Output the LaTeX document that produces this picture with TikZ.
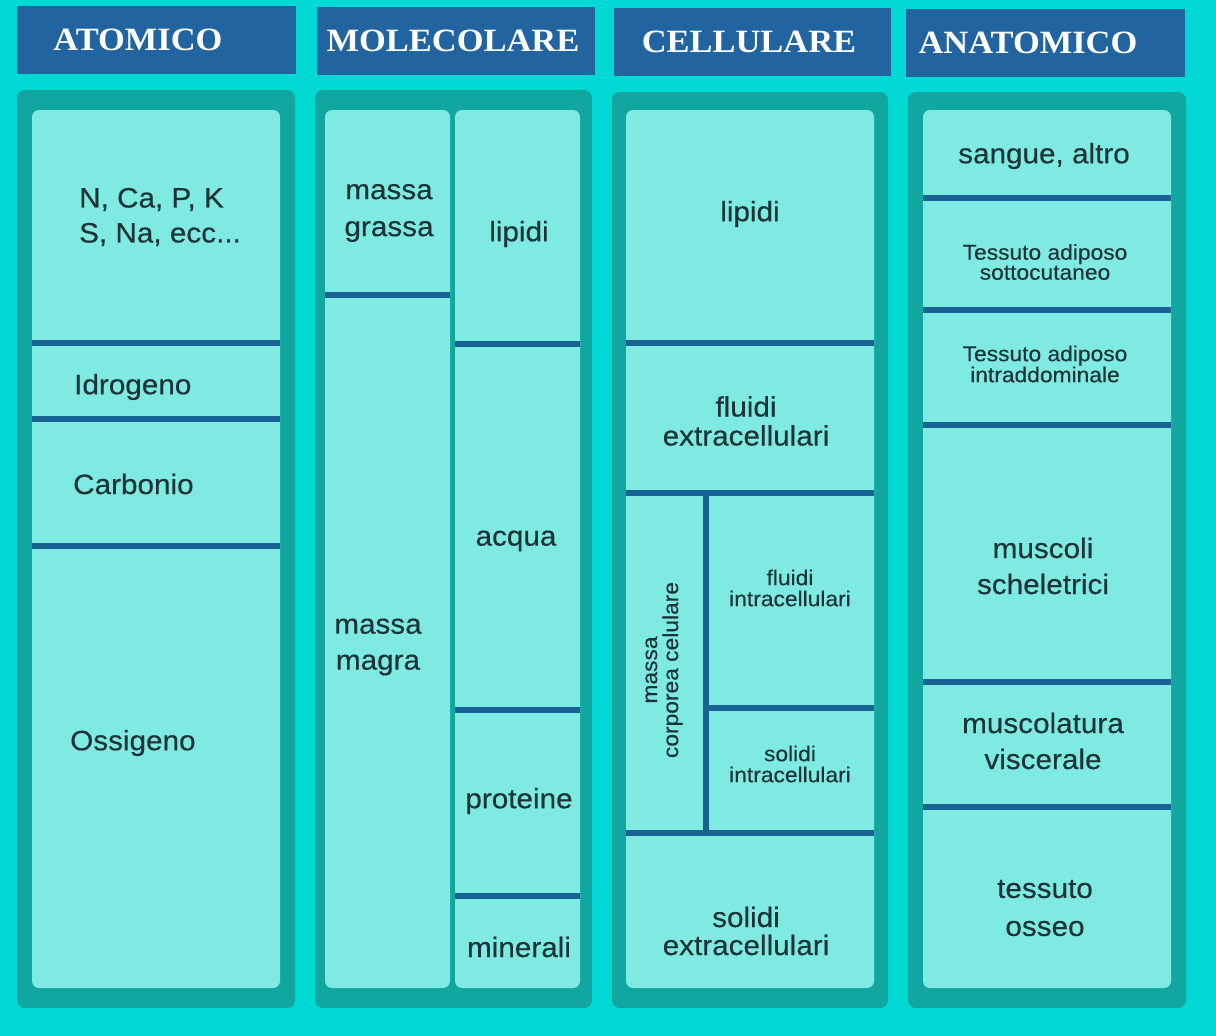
\documentclass[tikz,border=0pt]{standalone}
\usepackage{fontspec}
\setmainfont{Liberation Sans}[FakeStretch=1.06,FakeBold=0.35]
\newfontfamily\headfont{Liberation Serif}[FakeStretch=1.06]
\definecolor{bgc}{RGB}{0,216,212}
\definecolor{panelc}{RGB}{18,166,160}
\definecolor{cellc}{RGB}{126,234,226}
\definecolor{linec}{RGB}{24,98,148}
\definecolor{headc}{RGB}{34,100,160}
\definecolor{txtc}{RGB}{28,52,56}
\begin{document}
\begin{tikzpicture}[x=1pt,y=-1pt,
  headbox/.style={fill=headc},
  headtxt/.style={text=white,inner sep=0pt,font=\headfont\bfseries\fontsize{32.5}{36}\selectfont},
  panel/.style={fill=panelc,rounded corners=8pt},
  cell/.style={fill=cellc,rounded corners=7pt},
  sep/.style={draw=linec,line width=6.5pt},
  big/.style={text=txtc,inner sep=0pt,align=center,font=\fontsize{28}{#1}\selectfont},
  big/.default=36,
  small/.style={text=txtc,inner sep=0pt,align=center,font=\fontsize{21.5}{#1}\selectfont},
  small/.default=21]
\fill[bgc] (0,0) rectangle (1216,1036);
\useasboundingbox (0,0) rectangle (1216,1036);
% headers
\fill[headbox] (17,6) rectangle (296,74);
\fill[headbox] (317,7) rectangle (595,75);
\fill[headbox] (614,8) rectangle (891,76);
\fill[headbox] (906,9) rectangle (1185,77);
\node[headtxt] (h1) at (138,40) {ATOMICO};
\node[headtxt] (h2) at (453,41) {MOLECOLARE};
\node[headtxt] (h3) at (749,42) {CELLULARE};
\node[headtxt] (h4) at (1028,43) {ANATOMICO};
% panels
\fill[panel] (17,90) rectangle (295,1008);
\fill[panel] (315,90) rectangle (592,1008);
\fill[panel] (612,92) rectangle (888,1008);
\fill[panel] (908,92) rectangle (1186,1008);
% cells
\fill[cell] (32,110) rectangle (280,988);
\fill[cell] (325,110) rectangle (450,988);
\fill[cell] (455,110) rectangle (580,988);
\fill[cell] (626,110) rectangle (874,988);
\fill[cell] (923,110) rectangle (1171,988);
% separators col 1
\draw[sep] (32,343) -- (280,343);
\draw[sep] (32,419) -- (280,419);
\draw[sep] (32,546) -- (280,546);
% col 2
\draw[sep] (325,295) -- (450,295);
\draw[sep] (455,344) -- (580,344);
\draw[sep] (455,710) -- (580,710);
\draw[sep] (455,896) -- (580,896);
% col 3
\draw[sep] (626,343) -- (874,343);
\draw[sep] (626,493) -- (874,493);
\draw[sep] (706,493) -- (706,833);
\draw[sep] (706,708) -- (874,708);
\draw[sep] (626,833) -- (874,833);
% col 4
\draw[sep] (923,198) -- (1171,198);
\draw[sep] (923,310) -- (1171,310);
\draw[sep] (923,425) -- (1171,425);
\draw[sep] (923,682) -- (1171,682);
\draw[sep] (923,807) -- (1171,807);
% texts col 1
\node[big=35,align=left,anchor=west] (a1) at (79,217) {N, Ca, P, K\\S, Na, ecc...};
\node[big,anchor=west] (a2) at (74,387) {Idrogeno};
\node[big,anchor=west] (a3) at (73,484) {Carbonio};
\node[big,anchor=west] (a4) at (70,743) {Ossigeno};
% col 2
\node[big=37] (m1) at (389,213) {massa\\grassa};
\node[big=36] (m2) at (378,647) {massa\\magra};
\node[big] (m3) at (519,234) {lipidi};
\node[big] (m4) at (516,541) {acqua};
\node[big] (m5) at (519,801) {proteine};
\node[big] (m6) at (519,947) {minerali};
% col 3
\node[big] (c1) at (750,214) {lipidi};
\node[big=29] (c2) at (746,421) {fluidi\\extracellulari};
\node[small=21,rotate=90] (c3) at (664,670) {massa\\corporea celulare};
\node[small=21] (c4) at (790,588) {fluidi\\intracellulari};
\node[small=21] (c5) at (790,764) {solidi\\intracellulari};
\node[big=28] (c6) at (746,931) {solidi\\extracellulari};
% col 4
\node[big] (n1) at (1044,156) {sangue, altro};
\node[small=20] (n2) at (1045,262) {Tessuto adiposo\\sottocutaneo};
\node[small=21] (n3) at (1045,364) {Tessuto adiposo\\intraddominale};
\node[big=36] (n4) at (1043,566) {muscoli\\scheletrici};
\node[big=36] (n5) at (1043,741) {muscolatura\\viscerale};
\node[big=38] (n6) at (1045,908) {tessuto\\osseo};
\end{tikzpicture}
\end{document}
